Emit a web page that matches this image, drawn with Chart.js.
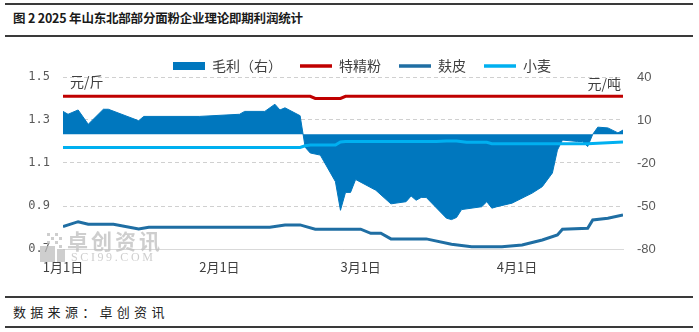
<!DOCTYPE html>
<html>
<head>
<meta charset="utf-8">
<script src="https://cdn.jsdelivr.net/npm/chart.js@4.4.1/dist/chart.umd.min.js"></script>
<style>
  body {
    margin: 0;
    width: 699px;
    height: 332px;
    background: #ffffff;
    position: relative;
    overflow: hidden;
    font-family: "Noto Sans CJK SC", sans-serif;
  }
  .rule {
    position: absolute;
    left: 5px;
    width: 688px;
    height: 2px;
    background: #3a3a3a;
  }
  .title {
    position: absolute;
    left: 13px;
    top: 9px;
    font-size: 12.5px;
    line-height: 17px;
    font-weight: bold;
    letter-spacing: -0.2px;
    color: #1a1a1a;
  }
  .source {
    position: absolute;
    left: 13px;
    top: 303px;
    font-size: 13px;
    line-height: 17px;
    letter-spacing: 4.3px;
    color: #222222;
  }
  .chart-box {
    position: absolute;
    left: 0;
    top: 37px;
    width: 699px;
    height: 259px;
  }
</style>
</head>
<body>
<div class="rule" style="top: 3px"></div>
<div class="title">图 2 2025 年山东北部部分面粉企业理论即期利润统计</div>
<div class="rule" style="top: 35px"></div>
<div class="chart-box"><canvas id="profitChart"></canvas></div>
<div class="rule" style="top: 296px"></div>
<div class="source">数据来源：卓创资讯</div>
<div class="rule" style="top: 326px"></div>

<script>
Chart.defaults.font.family = "'Noto Sans CJK SC', 'Liberation Sans', sans-serif";

// x axis: days counted from 1 Jan 2025
const monthStartDays = [0, 31, 59, 90];
const monthLabels = ["1月1日", "2月1日", "3月1日", "4月1日"];
const lastDay = 111;

// 毛利 (yuan/ton, right axis)
const profitDays = [0, 1, 3, 5, 8, 9, 15, 16, 27, 35, 36, 40, 42, 43, 44, 47, 48, 49, 51, 54, 55,
  56, 57, 58, 62, 65, 68, 69, 70, 71, 72, 76, 77, 78, 79, 83, 84, 85, 86, 89, 93,
  95, 97, 98, 99, 102, 103, 104, 105, 106, 108, 110, 111];
const profitValues = [16, 14, 17, 7, 17.5, 17.5, 9.5, 12.5, 12.5, 14, 16, 16, 21, 17, 18.5, 13, -9, -13, -14.5, -33, -53,
  -40.5, -40.5, -31.5, -39, -48.5, -47, -43, -46, -44, -44, -58.5, -59.5, -58, -52.5, -50.5, -47, -51.5, -50.5, -48, -41,
  -36.5, -27, -11, -4, -5, -5, -8.5, 0, 5, 4.5, 1, 3];

// 特精粉 (yuan/jin, left axis)
const flourDays = [0, 49, 50, 55, 56, 111];
const flourValues = [1.41, 1.41, 1.4, 1.4, 1.41, 1.41];

// 麸皮
const branDays = [0, 3, 5, 10, 15, 17, 41, 44, 47, 48, 50, 59, 61, 63, 65, 72, 77, 81, 87, 91, 95,
  98, 99, 104, 105, 108, 111];
const branValues = [0.804, 0.827, 0.815, 0.815, 0.793, 0.801, 0.801, 0.812, 0.812, 0.805, 0.792, 0.792, 0.773, 0.773,
  0.747, 0.747, 0.722, 0.711, 0.711, 0.719, 0.742, 0.765, 0.792, 0.796, 0.835, 0.843, 0.858];

// 小麦
const wheatDays = [0, 47, 48, 49, 54, 55, 56, 74, 76, 78, 80, 84, 85, 104, 111];
const wheatValues = [1.172, 1.172, 1.18, 1.184, 1.184, 1.198, 1.2, 1.2, 1.202, 1.202, 1.196, 1.196, 1.19, 1.19, 1.198];

function toPoints(days, values) {
  return days.map((d, i) => ({ x: d, y: values[i] }));
}

const textColor = "#404040";
const tickColor = "#595959";

// legend sits in a short band right above the plot
const legendGapPlugin = {
  id: "legendGap",
  beforeInit(chart) {
    const originalFit = chart.legend.fit;
    chart.legend.fit = function () {
      originalFit.bind(chart.legend)();
      this.height = 36;
    };
  },
  afterLayout(chart) {
    chart.legend.left = 155;
  },
};

const unitsPlugin = {
  id: "units",
  afterDraw(chart) {
    const ctx = chart.ctx;
    const area = chart.chartArea;
    ctx.save();
    ctx.font = "14px 'Noto Sans CJK SC'";
    ctx.fillStyle = textColor;
    ctx.textBaseline = "middle";
    ctx.textAlign = "left";
    ctx.fillText("元/斤", area.left + 7, area.top + 5);
    ctx.textAlign = "right";
    ctx.fillText("元/吨", area.right - 2, area.top + 7);
    ctx.restore();
  },
};

const watermarkPlugin = {
  id: "watermark",
  afterDraw(chart) {
    const ctx = chart.ctx;
    ctx.save();
    ctx.globalAlpha = 0.75;
    ctx.fillStyle = "#bdbdbd";
    // logo blocks
    ctx.fillRect(40, 209, 15, 16);
    const dots = [[47, 196], [55, 196], [51, 200], [59, 200], [55, 204], [59, 208], [47, 204]];
    for (const [x, y] of dots) {
      ctx.fillRect(x, y, 3, 3);
    }
    ctx.fillRect(57, 212, 8, 13);
    ctx.textBaseline = "middle";
    ctx.textAlign = "left";
    ctx.font = "bold 21px 'Noto Sans CJK SC'";
    ctx.letterSpacing = "3px";
    ctx.fillText("卓创资讯", 67, 204);
    ctx.font = "12px 'Liberation Serif'";
    ctx.letterSpacing = "2.6px";
    ctx.fillText("SCI99.COM", 71, 221);
    ctx.restore();
  },
};

new Chart(document.getElementById("profitChart"), {
  type: "line",
  data: {
    datasets: [
      {
        label: "毛利（右）",
        data: toPoints(profitDays, profitValues),
        yAxisID: "y1",
        borderColor: "#0077be",
        backgroundColor: "#0077be",
        borderWidth: 1,
        fill: "origin",
        pointRadius: 0,
        order: 1,
      },
      {
        label: "特精粉",
        data: toPoints(flourDays, flourValues),
        yAxisID: "y",
        borderColor: "#c00000",
        borderWidth: 3,
        fill: false,
        pointRadius: 0,
        order: 0,
      },
      {
        label: "麸皮",
        data: toPoints(branDays, branValues),
        yAxisID: "y",
        borderColor: "#1f6ea3",
        borderWidth: 3,
        fill: false,
        pointRadius: 0,
        order: 0,
      },
      {
        label: "小麦",
        data: toPoints(wheatDays, wheatValues),
        yAxisID: "y",
        borderColor: "#00b0f0",
        borderWidth: 3,
        fill: false,
        pointRadius: 0,
        order: 0,
      },
    ],
  },
  options: {
    responsive: true,
    maintainAspectRatio: false,
    animation: false,
    layout: {
      padding: { top: 4, left: 0, right: 0, bottom: 0 },
    },
    plugins: {
      tooltip: { enabled: false },
      legend: {
        position: "top",
        align: "start",
        labels: {
          usePointStyle: true,
          pointStyleWidth: 32,
          boxHeight: 8,
          padding: 18,
          color: textColor,
          font: { size: 14 },
          generateLabels(chart) {
            return chart.data.datasets.map((ds, i) => ({
              text: ds.label,
              fillStyle: ds.borderColor,
              strokeStyle: ds.borderColor,
              lineWidth: i === 0 ? 0 : 3.5,
              pointStyle: i === 0 ? "rect" : "line",
              hidden: false,
              datasetIndex: i,
              fontColor: textColor,
            }));
          },
        },
      },
    },
    scales: {
      x: {
        type: "linear",
        min: 0,
        max: lastDay,
        grid: { display: false, drawTicks: false },
        border: { display: true, color: "#d9d9d9", width: 1 },
        afterBuildTicks(axis) {
          axis.ticks = monthStartDays.map((v) => ({ value: v }));
        },
        afterFit(scale) {
          scale.height = 47;
        },
        ticks: {
          autoSkip: false,
          maxRotation: 0,
          padding: 10,
          color: textColor,
          font: { size: 13 },
          callback: (value) => monthLabels[monthStartDays.indexOf(value)],
        },
      },
      y: {
        position: "left",
        min: 0.7,
        max: 1.5,
        grid: { color: "#d0d0d0", lineWidth: 1, drawTicks: false },
        border: { display: false, dash: [4, 3] },
        afterFit(scale) {
          scale.width = 63;
        },
        ticks: {
          stepSize: 0.2,
          padding: 13,
          color: tickColor,
          font: { family: "'DejaVu Sans Mono'", size: 12 },
          callback: (value) => value.toFixed(1),
        },
      },
      y1: {
        position: "right",
        min: -80,
        max: 40,
        grid: { drawOnChartArea: false, drawTicks: false },
        border: { display: false },
        afterFit(scale) {
          scale.width = 76;
        },
        ticks: {
          stepSize: 30,
          padding: 14,
          color: tickColor,
          font: { family: "'Liberation Sans'", size: 13 },
        },
      },
    },
  },
  plugins: [legendGapPlugin, unitsPlugin, watermarkPlugin],
});
</script>
</body>
</html>
